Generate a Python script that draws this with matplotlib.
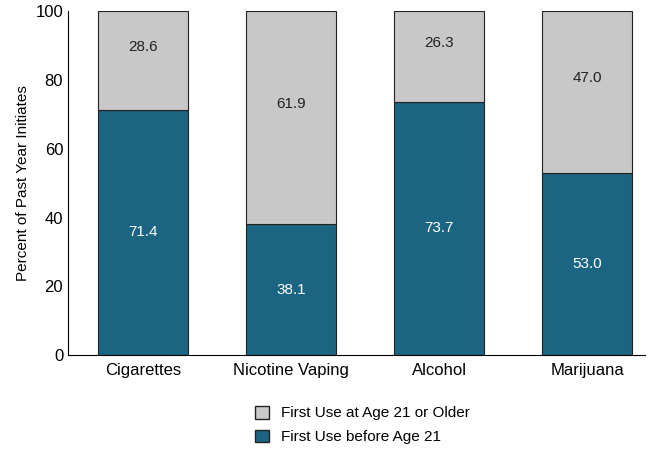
import matplotlib
matplotlib.use("Agg")
import matplotlib.pyplot as plt
from matplotlib.patches import Patch

categories = ["Cigarettes", "Nicotine Vaping", "Alcohol", "Marijuana"]
before21 = [71.4, 38.1, 73.7, 53.0]
after21 = [28.6, 61.9, 26.3, 47.0]

fam = ['Liberation Sans Narrow', 'Liberation Sans', 'DejaVu Sans']
plt.rcParams['font.family'] = fam
plt.rcParams['font.size'] = 11

fig = plt.figure(figsize=(6.48, 4.58), dpi=100)
ax = fig.add_axes([0.105, 0.225, 0.89, 0.75])
dark = "#1b6482"
gray = "#c8c8c8"
x = range(len(categories))
w = 0.61
ax.bar(x, before21, w, color=dark, edgecolor="#222222", linewidth=0.8)
ax.bar(x, after21, w, bottom=before21, color=gray, edgecolor="#222222", linewidth=0.8)
for i in x:
    ax.text(i, before21[i] / 2, f"{before21[i]:.1f}", ha="center", va="center", color="white", fontsize=11)
    ax.text(i, before21[i] + after21[i] / 2 + 4, f"{after21[i]:.1f}", ha="center", va="center", color="#222222", fontsize=11)
ax.set_ylim(0, 100)
ax.set_xlim(-0.507, 3.39)
ax.set_yticks(range(0, 101, 20))
ax.set_xticks(list(x))
ax.set_xticklabels(categories, fontsize=12)
ax.tick_params(axis='y', labelsize=12, length=0)
ax.tick_params(axis='x', length=0, pad=6)
ax.set_ylabel("Percent of Past Year Initiates", fontsize=11)
for s in ["top", "right"]:
    ax.spines[s].set_visible(False)
handles = [Patch(facecolor=gray, edgecolor="#222222", label="First Use at Age 21 or Older"),
           Patch(facecolor=dark, edgecolor="#222222", label="First Use before Age 21")]
fig.legend(handles=handles, loc="lower center", bbox_to_anchor=(0.56, 0.0), frameon=False,
           fontsize=11, handlelength=0.9, handleheight=0.9, labelspacing=0.6)
fig.savefig("out.png", dpi=100)
